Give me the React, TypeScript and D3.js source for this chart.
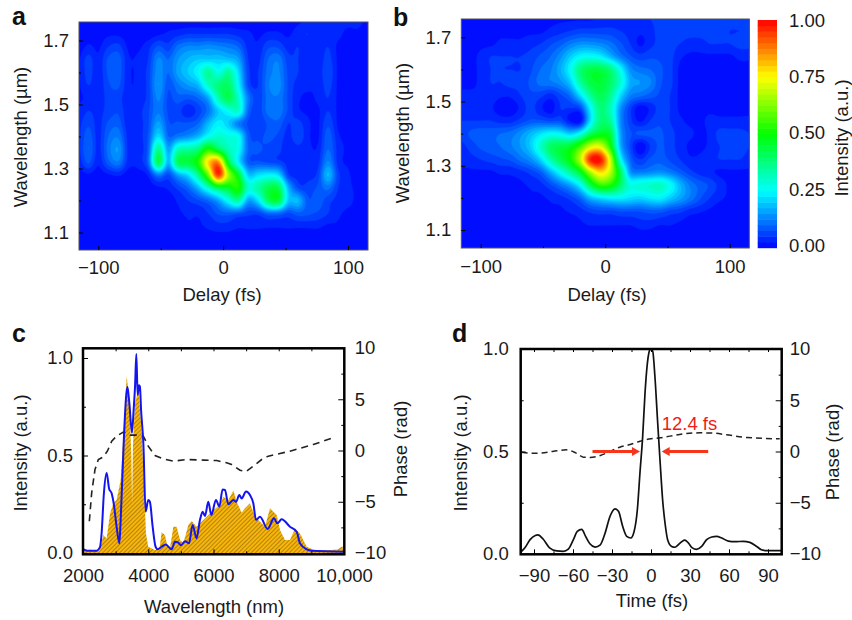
// App.tsx
import React, { useEffect, useRef } from 'react';
import * as d3 from 'd3';

// grid of the two delay/wavelength maps, intensity in percent
const delays = [-116, -108, -100, -92, -84, -76, -68, -60, -52, -44, -36, -28, -20, -12, -4, 4, 12, 20, 28, 36, 44, 52, 60, 68, 76, 84, 92, 100, 108, 116];
const wavelengths = [1.76, 1.72, 1.68, 1.64, 1.6, 1.56, 1.52, 1.48, 1.44, 1.4, 1.36, 1.32, 1.28, 1.24, 1.2, 1.16, 1.12, 1.08, 1.04];

const mapA = [
  [0, 0, 0, 1, 1, 0, 0, 0, 0, 1, 1, 1, 1, 1, 1, 1, 1, 1, 1, 1, 1, 1, 2, 3, 3, 3, 3, 3, 3, 2],
  [0, 1, 1, 2, 2, 1, 1, 1, 2, 3, 4, 5, 5, 5, 5, 5, 4, 3, 2, 3, 3, 2, 4, 5, 3, 4, 3, 2, 2, 1],
  [1, 3, 2, 5, 6, 2, 2, 4, 8, 6, 11, 13, 13, 14, 13, 12, 10, 4, 3, 7, 7, 4, 5, 3, 3, 5, 2, 2, 1, 1],
  [2, 6, 3, 8, 9, 3, 3, 5, 13, 10, 15, 18, 20, 20, 20, 19, 16, 5, 4, 10, 12, 6, 5, 3, 3, 6, 2, 1, 1, 0],
  [2, 6, 3, 8, 9, 3, 3, 6, 14, 10, 16, 20, 25, 35, 27, 35, 22, 6, 5, 11, 13, 7, 5, 3, 3, 7, 2, 1, 0, 0],
  [2, 5, 3, 7, 8, 3, 3, 6, 15, 8, 12, 15, 18, 30, 38, 40, 25, 7, 5, 12, 14, 7, 4, 3, 3, 6, 2, 1, 0, 0],
  [2, 3, 3, 6, 6, 3, 3, 6, 13, 7, 9, 8, 10, 16, 32, 42, 30, 12, 6, 11, 12, 7, 3, 2, 3, 5, 2, 1, 0, 0],
  [3, 5, 4, 6, 7, 3, 4, 7, 12, 7, 6, 3, 6, 11, 20, 26, 30, 10, 6, 11, 12, 7, 3, 2, 2, 5, 2, 1, 0, 0],
  [4, 7, 4, 8, 9, 3, 4, 7, 16, 8, 8, 8, 10, 18, 24, 20, 12, 7, 5, 8, 9, 5, 6, 3, 2, 7, 2, 1, 1, 1],
  [4, 9, 4, 10, 12, 4, 4, 8, 22, 10, 12, 14, 18, 26, 30, 28, 26, 9, 7, 8, 7, 4, 7, 3, 2, 9, 3, 2, 2, 1],
  [4, 10, 4, 11, 15, 4, 4, 9, 36, 16, 32, 34, 38, 52, 42, 32, 26, 10, 8, 7, 6, 3, 4, 3, 3, 10, 4, 2, 2, 1],
  [3, 8, 3, 9, 12, 4, 4, 10, 42, 18, 42, 44, 52, 78, 86, 45, 24, 9, 8, 7, 6, 4, 3, 3, 4, 13, 4, 2, 1, 1],
  [1, 2, 1, 2, 3, 1, 1, 3, 12, 7, 16, 22, 36, 60, 95, 66, 46, 20, 22, 24, 22, 6, 4, 4, 6, 18, 6, 3, 1, 1],
  [0, 0, 0, 0, 0, 0, 0, 1, 2, 3, 6, 10, 18, 30, 42, 46, 52, 30, 34, 42, 42, 18, 7, 6, 8, 11, 5, 3, 2, 1],
  [0, 0, 0, 0, 0, 0, 0, 1, 2, 1, 3, 5, 7, 10, 16, 26, 34, 16, 22, 40, 44, 20, 18, 8, 9, 6, 4, 3, 2, 1],
  [0, 0, 0, 0, 0, 0, 0, 1, 1, 1, 2, 3, 3, 5, 8, 9, 8, 6, 6, 10, 10, 7, 9, 8, 7, 5, 3, 2, 2, 1],
  [0, 0, 0, 0, 0, 0, 0, 0, 0, 1, 1, 2, 2, 3, 4, 4, 3, 3, 3, 3, 3, 3, 3, 3, 3, 2, 2, 1, 1, 0],
  [0, 0, 0, 0, 0, 0, 0, 0, 0, 0, 0, 0, 1, 1, 1, 1, 1, 1, 1, 1, 1, 1, 1, 1, 1, 0, 0, 0, 0, 0],
  [0, 0, 0, 0, 0, 0, 0, 0, 0, 0, 0, 0, 0, 0, 0, 0, 0, 0, 0, 0, 0, 0, 0, 0, 0, 0, 0, 0, 0, 0],
];

const mapB = [
  [2, 2, 2, 2, 2, 2, 2, 2, 2, 2, 2, 2, 2, 2, 3, 3, 3, 3, 4, 5, 6, 6, 6, 6, 6, 6, 6, 6, 6, 6],
  [2, 2, 2, 2, 2, 2, 2, 2, 2, 3, 4, 5, 6, 6, 6, 6, 5, 4, 3, 4, 6, 6, 6, 6, 6, 6, 6, 5, 5, 5],
  [2, 2, 2, 2, 3, 3, 3, 4, 5, 7, 9, 12, 14, 14, 13, 11, 8, 5, 2, 4, 6, 6, 5, 4, 4, 5, 5, 5, 6, 6],
  [2, 2, 3, 5, 5, 5, 5, 6, 8, 10, 14, 20, 25, 26, 24, 18, 12, 8, 6, 7, 7, 6, 3, 2, 2, 2, 2, 2, 3, 3],
  [2, 2, 3, 5, 5, 5, 5, 7, 10, 12, 17, 25, 38, 43, 43, 38, 26, 14, 11, 10, 8, 6, 2, 2, 2, 2, 2, 2, 2, 2],
  [2, 2, 3, 5, 5, 6, 6, 8, 11, 12, 14, 20, 34, 43, 45, 40, 30, 17, 15, 13, 8, 6, 2, 2, 2, 2, 2, 2, 2, 2],
  [3, 3, 3, 4, 3, 3, 5, 7, 6, 4, 7, 11, 22, 35, 42, 36, 22, 13, 11, 9, 7, 5, 2, 2, 2, 2, 2, 2, 2, 2],
  [4, 4, 4, 3, 1, 1, 3, 6, 3, 1, 5, 5, 7, 24, 38, 32, 15, 6, 1, 3, 6, 5, 2, 2, 2, 2, 2, 2, 2, 2],
  [5, 5, 5, 5, 4, 4, 6, 8, 8, 7, 7, 2, 1, 22, 38, 35, 14, 6, 2, 5, 7, 5, 3, 2, 2, 3, 3, 3, 3, 3],
  [6, 8, 9, 9, 10, 11, 14, 18, 22, 25, 24, 20, 26, 40, 46, 44, 16, 8, 8, 8, 8, 6, 4, 3, 2, 3, 6, 6, 6, 5],
  [4, 6, 8, 9, 10, 12, 15, 20, 30, 40, 43, 46, 56, 70, 72, 52, 18, 7, 0, 5, 8, 6, 4, 2, 2, 3, 5, 6, 6, 5],
  [3, 4, 5, 6, 7, 8, 11, 14, 21, 33, 42, 50, 68, 96, 98, 70, 27, 10, 5, 8, 9, 7, 5, 3, 3, 4, 5, 5, 5, 4],
  [2, 2, 2, 2, 3, 3, 4, 6, 9, 17, 26, 35, 46, 66, 78, 68, 42, 15, 12, 13, 14, 12, 9, 6, 4, 3, 2, 2, 2, 2],
  [1, 1, 1, 1, 1, 2, 2, 3, 4, 7, 11, 16, 25, 42, 54, 52, 40, 28, 29, 30, 31, 26, 18, 12, 9, 7, 4, 2, 2, 2],
  [0, 0, 0, 0, 1, 1, 1, 2, 2, 3, 4, 6, 10, 18, 22, 24, 24, 22, 21, 23, 24, 20, 16, 12, 8, 5, 3, 2, 1, 1],
  [0, 0, 0, 0, 0, 0, 1, 1, 1, 2, 2, 3, 4, 6, 7, 7, 8, 8, 8, 9, 9, 7, 6, 4, 3, 2, 1, 1, 0, 0],
  [0, 0, 0, 0, 0, 0, 0, 0, 0, 0, 1, 1, 2, 3, 3, 3, 3, 3, 4, 4, 3, 3, 2, 1, 1, 0, 0, 0, 0, 0],
  [0, 0, 0, 0, 0, 0, 0, 0, 0, 0, 0, 0, 0, 0, 0, 0, 0, 0, 1, 1, 0, 0, 0, 0, 0, 0, 0, 0, 0, 0],
  [0, 0, 0, 0, 0, 0, 0, 0, 0, 0, 0, 0, 0, 0, 0, 0, 0, 0, 0, 0, 0, 0, 0, 0, 0, 0, 0, 0, 0, 0],
];

const bandCount = 40;
const delayTicks = [-100, 0, 100];
const delayMinorTicks = [-50, 50];
const wavelengthTicks = [1.1, 1.3, 1.5, 1.7];
const wavelengthMinorTicks = [1.2, 1.4, 1.6];
const colorbarTicks = [0, 0.25, 0.5, 0.75, 1];

// panel c, [wavelength nm, intensity]
const measuredSpectrum = [
  [2000, 0.007], [2060, 0.018], [2130, 0.012], [2230, 0.018], [2300, 0.01], [2500, 0.012], [2570, 0.05], [2620, 0.092], [2725, 0.075], [2830, 0.203],
  [2930, 0.255], [3030, 0.272], [3155, 0.374], [3235, 0.597], [3340, 0.908], [3420, 0.785], [3480, 0.5], [3505, 0.25], [3530, 0.55], [3595, 0.768],
  [3700, 0.84], [3800, 0.614], [3870, 0.34], [3930, 0.1], [4000, 0.032], [4200, 0.015], [4340, 0.015], [4410, 0.106], [4510, 0.092], [4595, 0.032],
  [4665, 0.024], [4770, 0.135], [4870, 0.135], [4975, 0.067], [5075, 0.05], [5230, 0.144], [5330, 0.164], [5480, 0.135], [5585, 0.152], [5790, 0.186],
  [5995, 0.22], [6200, 0.246], [6301, 0.289], [6454, 0.27], [6608, 0.32], [6730, 0.255], [6863, 0.207], [6965, 0.229], [7118, 0.255], [7272, 0.186],
  [7425, 0.16], [7578, 0.135], [7731, 0.229], [7936, 0.195], [8038, 0.118], [8191, 0.067], [8344, 0.067], [8498, 0.126], [8650, 0.1], [8855, 0.032],
  [9100, 0.014], [9500, 0.014], [9800, 0.018], [9928, 0.032], [10000, 0.032],
];
const retrievedSpectrum = [
  [2000, 0.02], [2130, 0.012], [2420, 0.012], [2520, 0.03], [2570, 0.1], [2640, 0.305], [2725, 0.41], [2800, 0.33], [2880, 0.305], [2950, 0.245],
  [3030, 0.135], [3115, 0.05], [3155, 0.17], [3255, 0.595], [3320, 0.8], [3360, 0.853], [3420, 0.77], [3500, 0.617], [3555, 0.742], [3595, 0.853],
  [3635, 1.02], [3675, 0.81], [3715, 0.86], [3745, 0.853], [3780, 0.733], [3850, 0.562], [3920, 0.212], [4000, 0.272], [4050, 0.263], [4135, 0.135],
  [4225, 0.032], [4290, 0.019], [4410, 0.032], [4535, 0.044], [4715, 0.019], [4820, 0.058], [4920, 0.053], [5000, 0.04], [5130, 0.06], [5250, 0.05],
  [5360, 0.144], [5480, 0.075], [5586, 0.17], [5668, 0.212], [5740, 0.19], [5840, 0.263], [5933, 0.195], [6076, 0.272], [6178, 0.238], [6280, 0.326],
  [6352, 0.323], [6454, 0.25], [6608, 0.272], [6690, 0.262], [6791, 0.297], [6863, 0.28], [6996, 0.315], [7118, 0.297], [7220, 0.255], [7302, 0.17],
  [7425, 0.186], [7660, 0.123], [7854, 0.178], [7956, 0.152], [8089, 0.173], [8344, 0.135], [8549, 0.109], [8650, 0.05], [8855, 0.019], [9008, 0.012],
  [9979, 0.007],
];
const spectralPhase = [
  [2194, -6.9], [2266, -4.13], [2368, -1.85], [2470, -0.88], [2623, -0.62], [2746, -0.07], [2880, 0.91], [3030, 1.4], [3235, 1.79], [3440, 1.5],
  [3645, 1.5], [3850, 1.4], [4000, 0.42], [4207, -0.49], [4460, -0.81], [4770, -1.04], [5180, -0.88], [5690, -0.94], [6100, -0.98], [6400, -1.2],
  [6556, -1.37], [6812, -1.92], [6996, -2.05], [7220, -1.53], [7476, -0.88], [7680, -0.55], [8038, -0.29], [8344, -0.07], [9059, 0.59], [9672, 1.24],
];
const wavelengthAxisTicks = [2000, 4000, 6000, 8000, 10000];
const wavelengthAxisMinor = [3000, 5000, 7000, 9000];

// panel d, [time fs, value]
const pulseIntensity = [
  [-100, 0.01], [-97, 0.03], [-93, 0.07], [-89, 0.09], [-87, 0.093], [-83, 0.073], [-78, 0.03], [-72.5, 0.015], [-67.5, 0.013], [-63.6, 0.024],
  [-59.7, 0.07], [-56.7, 0.11], [-53.3, 0.12], [-50.3, 0.086], [-47, 0.05], [-43, 0.034], [-39, 0.045], [-35.4, 0.1], [-31.5, 0.184], [-27.7, 0.22],
  [-25, 0.208], [-21.8, 0.135], [-18.7, 0.086], [-15.6, 0.078], [-13, 0.11], [-10.5, 0.216], [-8.5, 0.395], [-6.4, 0.574], [-4.6, 0.785], [-2.8, 0.93],
  [-0.8, 0.997], [0, 1.0], [1.3, 0.99], [3, 0.867], [5, 0.655], [7, 0.45], [9, 0.26], [10.8, 0.15], [12.8, 0.07], [15.9, 0.037],
  [18.5, 0.033], [21, 0.045], [23.6, 0.06], [26, 0.068], [28.7, 0.054], [31.8, 0.03], [35, 0.023], [39, 0.037], [42.8, 0.07], [46.7, 0.083],
  [50.5, 0.086], [54.4, 0.078], [59.5, 0.063], [64.6, 0.06], [71, 0.062], [76, 0.057], [81.3, 0.037], [85, 0.021], [90, 0.016], [100, 0.016],
];
const pulsePhase = [
  [-99.5, -0.07], [-92, -0.16], [-85, -0.16], [-75, 0.03], [-65, 0.16], [-58, -0.13], [-52, -0.55], [-47, -0.58], [-39, -0.39], [-31.5, 0],
  [-24, 0.42], [-16, 0.68], [-8.5, 1.0], [0, 1.24], [7, 1.33], [14.6, 1.5], [25, 1.72], [37.7, 1.82], [48, 1.79], [58, 1.63],
  [73.6, 1.37], [99, 1.24],
];
const timeTicks = [-90, -60, -30, 0, 30, 60, 90];
const timeMinorTicks = [-75, -45, -15, 15, 45, 75];
const intensityTicks = [0, 0.5, 1];
const intensityMinorTicks = [0.25, 0.75];
const phaseTicks = [-10, -5, 0, 5, 10];
const phaseMinorTicks = [-7.5, -2.5, 2.5, 7.5];
const fwhmArrows = [[-45, -8.5], [44, 8.2]];

const FONT = '"Liberation Sans", Arial, sans-serif';
const FONT_SIZE = 18.5;
const jet = d3.scaleLinear<string>().domain([0, 0.25, 0.5, 0.75, 1]).range(['#0000ff', '#00ffff', '#00ff00', '#ffff00', '#ff0000']);

const catmull = (a, b, c, d, t) =>
  0.5 * (2 * b + (c - a) * t + (2 * a - 5 * b + 4 * c - d) * t * t + (3 * b - a - 3 * c + d) * t * t * t);

// smooth the read grid so the contour bands come out round
const upsample = (grid, f) => {
  const rows = grid.length;
  const cols = grid[0].length;
  const w = (cols - 1) * f + 1;
  const h = (rows - 1) * f + 1;
  const at = (r, c) => grid[Math.max(0, Math.min(rows - 1, r))][Math.max(0, Math.min(cols - 1, c))];
  const out = new Array(w * h);
  for (let j = 0; j < h; j++) {
    const r = Math.floor(j / f);
    const tr = j / f - r;
    for (let i = 0; i < w; i++) {
      const c = Math.floor(i / f);
      const tc = i / f - c;
      const row = [-1, 0, 1, 2].map((k) => catmull(at(r + k, c - 1), at(r + k, c), at(r + k, c + 1), at(r + k, c + 2), tc));
      out[j * w + i] = Math.max(0, Math.min(100, catmull(row[0], row[1], row[2], row[3], tr))) / 100;
    }
  }
  return { values: out, w, h };
};

const styleAxis = (g) => {
  g.select('.domain').remove();
  g.selectAll('text').attr('font-family', FONT).attr('font-size', FONT_SIZE).attr('fill', '#1a1a1a');
};

const label = (svg, text, x, y, opts: any = {}) => {
  const t = svg
    .append('text')
    .attr('font-family', FONT)
    .attr('font-size', opts.size || FONT_SIZE)
    .attr('font-weight', opts.weight || 'normal')
    .attr('fill', opts.fill || '#1a1a1a')
    .attr('text-anchor', opts.anchor || 'middle')
    .text(text);
  if (opts.rotate) t.attr('transform', `translate(${x},${y}) rotate(-90)`);
  else t.attr('x', x).attr('y', y);
};

const drawMap = (svg, id, grid, box) => {
  const x = d3.scaleLinear().domain([-100, 100]).range(box.x);
  const y = d3.scaleLinear().domain([1.1, 1.7]).range(box.y);
  const [x0, x1] = [box.left, box.right];
  const [y0, y1] = [box.top, box.bottom];

  svg.append('clipPath').attr('id', id).append('rect').attr('x', x0).attr('y', y0).attr('width', x1 - x0).attr('height', y1 - y0);

  const f = 6;
  const { values, w, h } = upsample(grid, f);
  const thresholds = d3.range(bandCount).map((k) => k / bandCount);
  const contours = d3.contours().size([w, h]).thresholds(thresholds)(values);
  const dx = delays[1] - delays[0];
  const dy = wavelengths[1] - wavelengths[0];
  const path = d3.geoPath(
    d3.geoTransform({
      point(px, py) {
        this.stream.point(x(delays[0] + ((px - 0.5) / f) * dx), y(wavelengths[0] + ((py - 0.5) / f) * dy));
      },
    })
  );

  svg
    .append('g')
    .attr('clip-path', `url(#${id})`)
    .selectAll('path')
    .data(contours)
    .enter()
    .append('path')
    .attr('d', path)
    .attr('fill', (d) => jet(d.value + 0.5 / bandCount))
    .attr('stroke', (d) => jet(d.value + 0.5 / bandCount))
    .attr('stroke-width', 0.4);

  svg
    .append('rect')
    .attr('x', x0)
    .attr('y', y0)
    .attr('width', x1 - x0)
    .attr('height', y1 - y0)
    .attr('fill', 'none')
    .attr('stroke', '#555')
    .attr('stroke-width', 1);

  svg.append('g').attr('transform', `translate(0,${y1})`)
    .call(d3.axisBottom(x).tickValues(delayTicks).tickSize(-4).tickPadding(box.padX).tickFormat((d) => d3.format('d')(d)))
    .call(styleAxis);
  svg.append('g').attr('transform', `translate(0,${y1})`)
    .call(d3.axisBottom(x).tickValues(delayMinorTicks).tickSize(-2).tickFormat(() => ''))
    .call(styleAxis);
  svg.append('g').attr('transform', `translate(${x0},0)`)
    .call(d3.axisLeft(y).tickValues(wavelengthTicks).tickSize(-4).tickPadding(10).tickFormat(d3.format('.1f')))
    .call(styleAxis);
  svg.append('g').attr('transform', `translate(${x0},0)`)
    .call(d3.axisLeft(y).tickValues(wavelengthMinorTicks).tickSize(-2).tickFormat(() => ''))
    .call(styleAxis);
};

const drawDualFrame = (svg, x, yLeft, yRight, box, xMajor, xMinor, xFormat) => {
  svg
    .append('rect')
    .attr('x', box.left)
    .attr('y', box.top)
    .attr('width', box.right - box.left)
    .attr('height', box.bottom - box.top)
    .attr('fill', 'none')
    .attr('stroke', '#000')
    .attr('stroke-width', 2.5);

  const blank = () => '';
  svg.append('g').attr('transform', `translate(0,${box.bottom})`)
    .call(d3.axisBottom(x).tickValues(xMajor).tickSize(-5).tickPadding(15).tickFormat(xFormat)).call(styleAxis);
  svg.append('g').attr('transform', `translate(0,${box.bottom})`)
    .call(d3.axisBottom(x).tickValues(xMinor).tickSize(-3).tickFormat(blank)).call(styleAxis);
  svg.append('g').attr('transform', `translate(0,${box.top})`)
    .call(d3.axisTop(x).tickValues([...xMajor, ...xMinor]).tickSize(-3).tickFormat(blank)).call(styleAxis);
  svg.append('g').attr('transform', `translate(${box.left},0)`)
    .call(d3.axisLeft(yLeft).tickValues(intensityTicks).tickSize(-5).tickPadding(box.padLeft).tickFormat(d3.format('.1f'))).call(styleAxis);
  svg.append('g').attr('transform', `translate(${box.left},0)`)
    .call(d3.axisLeft(yLeft).tickValues(intensityMinorTicks).tickSize(-3).tickFormat(blank)).call(styleAxis);
  svg.append('g').attr('transform', `translate(${box.right},0)`)
    .call(d3.axisRight(yRight).tickValues(phaseTicks).tickSize(-6).tickPadding(box.padRight).tickFormat(d3.format('d'))).call(styleAxis);
  svg.append('g').attr('transform', `translate(${box.right},0)`)
    .call(d3.axisRight(yRight).tickValues(phaseMinorTicks).tickSize(-3).tickFormat(blank)).call(styleAxis);
};

const App = () => {
  const svgRef = useRef(null);

  useEffect(() => {
    const svg = d3.select(svgRef.current);
    svg.selectAll('*').remove();

    // panels a and b
    drawMap(svg, 'clip-a', mapA, { x: [98.3, 348], y: [232.5, 40.5], left: 79, right: 368, top: 22, bottom: 250, padX: 11 });
    drawMap(svg, 'clip-b', mapB, { x: [480.7, 729.7], y: [230, 37.3], left: 461.3, right: 749.3, top: 19, bottom: 248, padX: 12 });
    label(svg, 'Delay (fs)', 222, 301);
    label(svg, 'Delay (fs)', 607, 301);
    label(svg, 'Wavelength (\u00b5m)', 27, 137, { rotate: true });
    label(svg, 'Wavelength (\u00b5m)', 409, 133, { rotate: true });

    // colorbar
    const barScale = d3.scaleLinear().domain([0, 1]).range([247.7, 20]);
    const band = 1 / bandCount;
    svg
      .append('g')
      .selectAll('rect')
      .data(d3.range(bandCount).map((k) => k * band))
      .enter()
      .append('rect')
      .attr('x', 757.7)
      .attr('width', 19.3)
      .attr('y', (d) => barScale(d + band))
      .attr('height', (d) => barScale(d) - barScale(d + band) + 0.5)
      .attr('fill', (d) => jet(d + band / 2));
    const barLabels = d3.scaleLinear().domain([0, 1]).range([245.7, 20.7]);
    colorbarTicks.forEach((v) => {
      svg
        .append('text')
        .attr('x', 789)
        .attr('y', barLabels(v))
        .attr('dy', '0.34em')
        .attr('font-family', FONT)
        .attr('font-size', FONT_SIZE)
        .attr('fill', '#1a1a1a')
        .text(v.toFixed(2));
    });
    label(svg, 'Intensity (a.u.)', 848, 138, { rotate: true });

    // panel c
    const boxC = { left: 83, right: 344.3, top: 348.3, bottom: 554.3, padLeft: 10, padRight: 10.5 };
    const xC = d3.scaleLinear().domain([2000, 10000]).range([83, 344]);
    const yCL = d3.scaleLinear().domain([0, 1]).range([553, 358]);
    const yCR = d3.scaleLinear().domain([-10, 10]).range([553, 348]);

    const defs = svg.append('defs');
    const hatch = defs
      .append('pattern')
      .attr('id', 'hatch')
      .attr('patternUnits', 'userSpaceOnUse')
      .attr('width', 3)
      .attr('height', 3)
      .attr('patternTransform', 'rotate(-45)');
    hatch.append('rect').attr('width', 3).attr('height', 3).attr('fill', '#f8b60a');
    hatch.append('line').attr('x1', 0).attr('x2', 3).attr('y1', 1.5).attr('y2', 1.5).attr('stroke', '#b4840c').attr('stroke-width', 1);

    svg
      .append('path')
      .datum(measuredSpectrum)
      .attr('d', d3.area().x((d) => xC(d[0])).y0(yCL(0)).y1((d) => yCL(d[1])))
      .attr('fill', 'url(#hatch)');
    svg
      .append('path')
      .datum(spectralPhase)
      .attr('d', d3.line().x((d) => xC(d[0])).y((d) => yCR(d[1])))
      .attr('fill', 'none')
      .attr('stroke', '#222')
      .attr('stroke-width', 1.6)
      .attr('stroke-dasharray', '7,5');
    svg
      .append('path')
      .datum(retrievedSpectrum)
      .attr('d', d3.line().curve(d3.curveMonotoneX).x((d) => xC(d[0])).y((d) => yCL(d[1])))
      .attr('fill', 'none')
      .attr('stroke', '#1414ee')
      .attr('stroke-width', 2);
    drawDualFrame(svg, xC, yCL, yCR, boxC, wavelengthAxisTicks, wavelengthAxisMinor, (d) => (d >= 10000 ? d3.format(',')(d) : String(d)));
    label(svg, 'Wavelength (nm)', 214, 613);
    label(svg, 'Intensity (a.u.)', 27, 453, { rotate: true });
    label(svg, 'Phase (rad)', 407, 449, { rotate: true });

    // panel d
    const boxD = { left: 520.7, right: 781.7, top: 349, bottom: 554.3, padLeft: 12, padRight: 8 };
    const xD = d3.scaleLinear().domain([-100, 100]).range([521, 781]);
    const yDL = d3.scaleLinear().domain([0, 1]).range([554, 349]);
    const yDR = d3.scaleLinear().domain([-10, 10]).range([554, 349]);

    svg
      .append('path')
      .datum(pulsePhase)
      .attr('d', d3.line().curve(d3.curveMonotoneX).x((d) => xD(d[0])).y((d) => yDR(d[1])))
      .attr('fill', 'none')
      .attr('stroke', '#222')
      .attr('stroke-width', 1.5)
      .attr('stroke-dasharray', '6,4');
    svg
      .append('path')
      .datum(pulseIntensity)
      .attr('d', d3.line().curve(d3.curveMonotoneX).x((d) => xD(d[0])).y((d) => yDL(d[1])))
      .attr('fill', 'none')
      .attr('stroke', '#111')
      .attr('stroke-width', 1.7);

    const red = '#f5351c';
    fwhmArrows.forEach(([from, to]) => {
      const dir = Math.sign(to - from);
      svg
        .append('line')
        .attr('x1', xD(from))
        .attr('x2', xD(to) - dir * 6)
        .attr('y1', yDR(0))
        .attr('y2', yDR(0))
        .attr('stroke', red)
        .attr('stroke-width', 2.8);
      svg
        .append('path')
        .attr('d', d3.line()([[xD(to), yDR(0)], [xD(to) - dir * 8, yDR(0) - 4.5], [xD(to) - dir * 8, yDR(0) + 4.5]]) + 'Z')
        .attr('fill', red);
    });
    label(svg, '12.4 fs', 689.5, 430, { fill: '#f01c14' });

    drawDualFrame(svg, xD, yDL, yDR, boxD, timeTicks, timeMinorTicks, (d) => d3.format('d')(d));
    label(svg, 'Time (fs)', 652, 607);
    label(svg, 'Intensity (a.u.)', 467, 453, { rotate: true });
    label(svg, 'Phase (rad)', 839, 452, { rotate: true });

    // panel letters
    [['a', 12, 25], ['b', 393, 26], ['c', 12, 342], ['d', 452, 342]].forEach(([t, x, y]) => {
      label(svg, t, x, y, { size: 25, weight: 'bold', anchor: 'start', fill: '#111' });
    });
  }, []);

  return (
    <svg
      ref={svgRef}
      width={852}
      height={620}
      style={{ position: 'absolute', left: 0, top: 0, background: '#fff' }}
    />
  );
};

export default App;
